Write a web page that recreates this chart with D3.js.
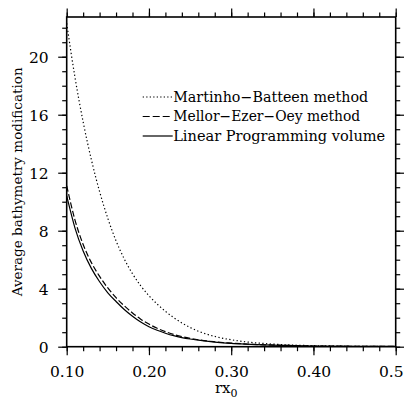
<!DOCTYPE html>
<html>
<head>
<meta charset="utf-8">
<script src="https://cdn.jsdelivr.net/npm/d3@7"></script>
<style>
  body { margin: 0; background: #fff; }
  text { font-family: "DejaVu Serif", serif; fill: #000; }
</style>
</head>
<body>
<div class="canvas"></div>
<script>
// data
const rx = [0.10, 0.11, 0.12, 0.13, 0.14, 0.15, 0.16, 0.17, 0.18, 0.19, 0.20,
  0.21, 0.22, 0.23, 0.24, 0.25, 0.26, 0.27, 0.28, 0.29, 0.30,
  0.32, 0.34, 0.36, 0.38, 0.40, 0.45, 0.50];
const martinho = [22.3, 18.6, 15.5, 12.9, 10.7, 8.85, 7.3, 6.05, 5.03, 4.2, 3.52,
  2.94, 2.44, 2.01, 1.64, 1.33, 1.07, 0.87, 0.71, 0.58, 0.48,
  0.32, 0.22, 0.15, 0.10, 0.07, 0.03, 0.01];
const mellor = [11.1, 8.75, 7.05, 5.8, 4.85, 4.05, 3.38, 2.82, 2.33, 1.9, 1.56,
  1.27, 1.04, 0.85, 0.70, 0.58, 0.48, 0.40, 0.34, 0.29, 0.25,
  0.18, 0.13, 0.10, 0.07, 0.05, 0.03, 0.02];
const linprog = [10.4, 8.2, 6.6, 5.4, 4.48, 3.72, 3.12, 2.57, 2.1, 1.7, 1.38,
  1.13, 0.93, 0.76, 0.63, 0.53, 0.45, 0.38, 0.32, 0.27, 0.23,
  0.17, 0.12, 0.09, 0.07, 0.05, 0.03, 0.02];

const seriesNames = ['Martinho\u2212Batteen method', 'Mellor\u2212Ezer\u2212Oey method', 'Linear Programming volume'];
const xTicks = [0.10, 0.20, 0.30, 0.40, 0.50];
const xTickLabels = ['0.10', '0.20', '0.30', '0.40', '0.50'];
const yTicks = [0, 4, 8, 12, 16, 20];

const dims = { width: 404, height: 399 };
const plot = { left: 66.7, right: 395.7, top: 17, bottom: 346.7 };

const svg = d3.select('.canvas')
  .append('svg')
  .attr('width', dims.width)
  .attr('height', dims.height);

const x = d3.scaleLinear().domain([0.1, 0.5]).range([plot.left, plot.right]);
const y = d3.scaleLinear().domain([0, 22.74]).range([plot.bottom, plot.top]);

const xMinor = d3.range(0.1, 0.5001, 0.02);
const yMinor = d3.range(0, 23, 1);

// minor ticks first, then major ones on top
const axisDefs = [
  { gen: d3.axisBottom, pos: `translate(0,${plot.bottom})`, scale: x, major: xTicks, minor: xMinor },
  { gen: d3.axisTop, pos: `translate(0,${plot.top})`, scale: x, major: xTicks, minor: xMinor },
  { gen: d3.axisLeft, pos: `translate(${plot.left},0)`, scale: y, major: yTicks, minor: yMinor },
  { gen: d3.axisRight, pos: `translate(${plot.right},0)`, scale: y, major: yTicks, minor: yMinor }
];

axisDefs.forEach(a => {
  const gMin = svg.append('g').attr('transform', a.pos)
    .call(a.gen(a.scale).tickValues(a.minor).tickSize(4.5).tickSizeOuter(0).tickFormat(''));
  const gMaj = svg.append('g').attr('transform', a.pos)
    .call(a.gen(a.scale).tickValues(a.major).tickSize(8.5).tickSizeOuter(0).tickFormat(''));
  [gMin, gMaj].forEach(g => {
    g.select('.domain').remove();
    g.selectAll('line').attr('stroke', '#000').attr('stroke-width', 1.2);
  });
});

// tick labels
svg.append('g').attr('transform', `translate(0,${plot.bottom})`)
  .call(d3.axisBottom(x).tickValues(xTicks).tickSize(0)
    .tickFormat((d, i) => xTickLabels[i]))
  .call(g => g.select('.domain').remove())
  .selectAll('text')
    .attr('y', 30).attr('dy', null)
    .attr('font-size', 15.5)
    .attr('font-family', '"DejaVu Serif", serif');

svg.append('g').attr('transform', `translate(${plot.left},0)`)
  .call(d3.axisLeft(y).tickValues(yTicks).tickSize(0))
  .call(g => g.select('.domain').remove())
  .selectAll('text')
    .attr('x', -18).attr('dy', '0.36em')
    .attr('font-size', 15.5)
    .attr('font-family', '"DejaVu Serif", serif');

// frame
svg.append('rect')
  .attr('x', plot.left).attr('y', plot.top)
  .attr('width', plot.right - plot.left).attr('height', plot.bottom - plot.top)
  .attr('fill', 'none').attr('stroke', '#000').attr('stroke-width', 1.6);

svg.append('clipPath').attr('id', 'clip')
  .append('rect')
  .attr('x', plot.left).attr('y', plot.top)
  .attr('width', plot.right - plot.left).attr('height', plot.bottom - plot.top);

const line = d3.line()
  .x(d => x(d[0]))
  .y(d => y(d[1]))
  .curve(d3.curveMonotoneX);

const series = [
  { name: seriesNames[0], values: martinho, dash: '1.3,2.4', legendDash: '1.3,2.2', textLen: 195 },
  { name: seriesNames[1], values: mellor, dash: '6,2.5', legendDash: '7,3', textLen: 187 },
  { name: seriesNames[2], values: linprog, dash: null, legendDash: null, textLen: 212 }
];

svg.append('g').attr('clip-path', 'url(#clip)')
  .selectAll('path')
  .data(series)
  .enter()
  .append('path')
    .attr('d', s => line(rx.map((v, i) => [v, s.values[i]])))
    .attr('fill', 'none')
    .attr('stroke', '#000')
    .attr('stroke-width', 1.2)
    .attr('stroke-dasharray', s => s.dash);

// legend
const legend = svg.append('g').attr('transform', 'translate(142.7, 97)');
series.forEach((s, i) => {
  const row = legend.append('g').attr('transform', `translate(0, ${i * 19.5})`);
  row.append('line')
    .attr('x1', 0).attr('x2', 30).attr('y1', 0).attr('y2', 0)
    .attr('stroke', '#000').attr('stroke-width', 1.2)
    .attr('stroke-dasharray', s.legendDash);
  row.append('text')
    .attr('x', 30.5).attr('y', 4.5)
    .attr('font-size', 14)
    .attr('textLength', s.textLen)
    .attr('lengthAdjust', 'spacingAndGlyphs')
    .text(s.name);
});

// axis titles
const xt = svg.append('text')
  .attr('x', (plot.left + plot.right) / 2 - 5).attr('y', 393)
  .attr('text-anchor', 'middle')
  .attr('font-size', 15);
xt.append('tspan').text('rx');
xt.append('tspan').attr('dy', 3.5).attr('font-size', 11).text('0');

svg.append('text')
  .attr('transform', `translate(22, ${(plot.top + plot.bottom) / 2}) rotate(-90)`)
  .attr('text-anchor', 'middle')
  .attr('font-size', 13)
  .attr('textLength', 229)
  .attr('lengthAdjust', 'spacingAndGlyphs')
  .text('Average bathymetry modification');
</script>
</body>
</html>
